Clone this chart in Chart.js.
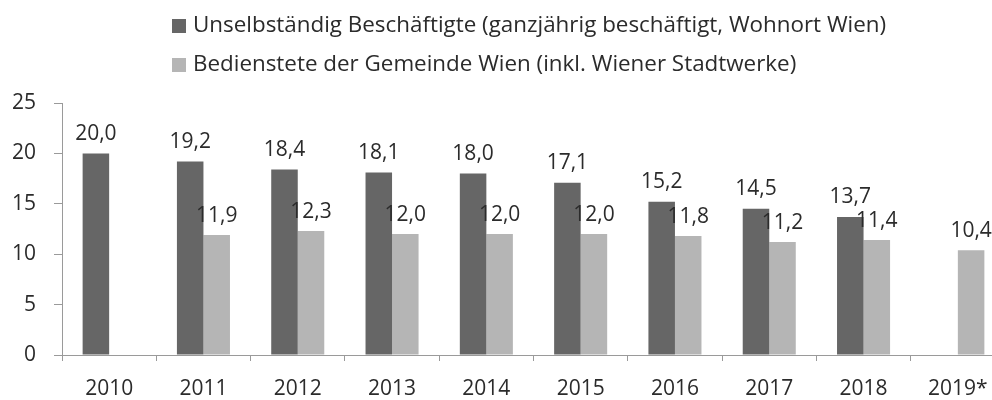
<!DOCTYPE html>
<html><head><meta charset="utf-8">
<script src="https://cdn.jsdelivr.net/npm/chart.js@4"></script>
<style>html,body{margin:0;padding:0;overflow:hidden;background:#fff;width:992px;height:400px}#wrap{width:1010px;height:400px}</style>
</head><body><div id="wrap"><canvas id="c" width="1010" height="400"></canvas></div>
<script>
const categories = ['2010','2011','2012','2013','2014','2015','2016','2017','2018','2019*'];
const unselbstaendig = [20.0,19.2,18.4,18.1,18.0,17.1,15.2,14.5,13.7,null];
const bedienstete = [null,11.9,12.3,12.0,12.0,12.0,11.8,11.2,11.4,10.4];
const seriesLabels = ['Unselbständig Beschäftigte (ganzjährig beschäftigt, Wohnort Wien)','Bedienstete der Gemeinde Wien (inkl. Wiener Stadtwerke)'];
const yTicks = [0,5,10,15,20,25];

const FONT = '"Open Sans", sans-serif';
const TXT = '#2b2b2b';

const valueLabels = {
  id:'valueLabels',
  afterDatasetsDraw(chart){
    const ctx = chart.ctx;
    ctx.save();
    ctx.font = '21px ' + FONT;
    ctx.fillStyle = TXT;
    ctx.textAlign = 'center';
    ctx.textBaseline = 'bottom';
    chart.data.datasets.forEach((ds,i)=>{
      chart.getDatasetMeta(i).data.forEach((el,j)=>{
        const v = ds.data[j];
        if (v==null) return;
        ctx.fillText(v.toFixed(1).replace('.',','), el.x, el.y - 9);
      });
    });
    ctx.restore();
  }
};
const legendPlugin = {
  id:'customLegend',
  afterDraw(chart){
    const ctx = chart.ctx;
    ctx.save();
    ctx.font = '22.4px ' + FONT;
    ctx.textBaseline = 'middle';
    chart.data.datasets.forEach((ds,i)=>{
      const y = 26 + i*39;
      ctx.fillStyle = ds.backgroundColor;
      ctx.fillRect(172, y-7, 14, 14);
      ctx.fillStyle = TXT;
      ctx.fillText(ds.label, 193, y);
    });
    ctx.restore();
  }
};

new Chart(document.getElementById('c'), {
  type:'bar',
  data:{
    labels: categories,
    datasets:[
      {label: seriesLabels[0], data: unselbstaendig, backgroundColor:'#666666'},
      {label: seriesLabels[1], data: bedienstete, backgroundColor:'#b5b5b5'}
    ]
  },
  options:{
    responsive:false, animation:false,
    layout:{padding:{top:103, right:5, left:0, bottom:0}},
    datasets:{bar:{categoryPercentage:0.5625, barPercentage:1.0}},
    plugins:{legend:{display:false}, tooltip:{enabled:false}},
    scales:{
      x:{
        grid:{display:true, drawOnChartArea:false, drawTicks:true, tickLength:6, color:'#9a9a9a', offset:true},
        border:{color:'#9a9a9a', width:1},
        ticks:{color:TXT, font:{family:FONT, size:21}, padding:15, maxRotation:0},
        afterFit(s){ s.height = 45; }
      },
      y:{
        min:0, max:25,
        afterBuildTicks(s){ s.ticks = yTicks.map(v=>({value:v})); },
        grid:{display:true, drawOnChartArea:false, drawTicks:true, tickLength:8, color:'#9a9a9a'},
        border:{color:'#9a9a9a', width:1},
        ticks:{color:TXT, font:{family:FONT, size:21}, padding:18},
        afterFit(s){ s.width = 62; }
      }
    }
  },
  plugins:[valueLabels, legendPlugin]
});
</script></body></html>
